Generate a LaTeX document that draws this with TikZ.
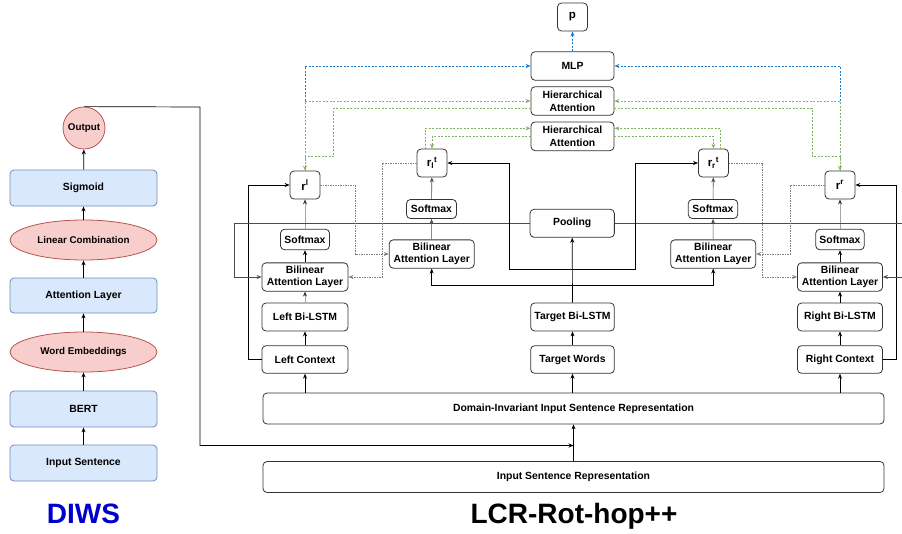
\documentclass[tikz,border=0pt]{standalone}
\usepackage{fontspec}
\usepackage{amsmath}
\setmainfont{Liberation Sans}
\usetikzlibrary{arrows.meta,calc,shapes.geometric}
\definecolor{dblue}{HTML}{6C8EBF}
\definecolor{dfill}{HTML}{DAE8FC}
\definecolor{pfill}{HTML}{F8CECC}
\definecolor{pdraw}{HTML}{B85450}
\definecolor{edgec}{HTML}{333333}
\definecolor{hgreen}{HTML}{82B366}
\definecolor{mblue}{HTML}{1F7AC8}
\definecolor{titleblue}{HTML}{0000CC}
\begin{document}
\begin{tikzpicture}[x=1pt,y=-1pt,
  tip/.style={-{Stealth[length=5pt,width=4pt]}},
  lbox/.style={draw=dblue,fill=dfill,rounded corners=4pt,line width=0.8pt,minimum width=147pt,minimum height=36pt,inner sep=0pt,font=\fontsize{10.4}{12}\selectfont\bfseries},
  lell/.style={ellipse,draw=pdraw,fill=pfill,line width=0.8pt,minimum width=147pt,minimum height=40pt,inner sep=0pt,font=\fontsize{9.8}{12}\selectfont\bfseries},
  box/.style={draw=edgec,fill=white,rounded corners=4pt,line width=0.8pt,inner sep=0pt,align=center,font=\fontsize{10.4}{12.6}\selectfont\bfseries},
  rbox/.style={box,minimum width=30pt,minimum height=28pt,font=\fontsize{11.5}{12}\selectfont\bfseries},
  conn/.style={tip,draw=black,line width=0.7pt},
  lconn/.style={-{Stealth[length=5pt,width=4pt,color=black!80]},draw=black!35,line width=0.8pt},
  gconn/.style={tip,draw=black!70,line width=0.6pt},
  dotg/.style={tip,draw=black!50,line width=0.8pt,dash pattern=on 1.5pt off 1pt},
  dgreen/.style={draw=hgreen,line width=0.8pt,dash pattern=on 2pt off 1.5pt},
  dblueline/.style={draw=mblue,line width=0.8pt,dash pattern=on 2pt off 1.5pt},
  title/.style={anchor=base,font=\fontsize{28}{30}\selectfont\bfseries,inner sep=0pt}
]
\useasboundingbox[fill=white] (0,0) rectangle (902,533);

% ---------------- DIWS ----------------
\node[lbox] (in) at (83.5,463) {Input Sentence};
\node[lbox] (bert) at (83.5,409) {BERT};
\node[lell] (we) at (83.5,352) {Word Embeddings};
\node[lbox,minimum height=35pt] (att) at (83.5,295.5) {Attention Layer};
\node[lell] (lc) at (83.5,240) {Linear Combination};
\node[lbox] (sig) at (83.5,188) {Sigmoid};
\node[circle,draw=pdraw,fill=pfill,line width=0.8pt,minimum size=42pt,inner sep=0pt,font=\fontsize{9.8}{12}\selectfont\bfseries] (out) at (84,128) {Output};
\draw[conn] (in) -- (bert);
\draw[conn] (bert) -- (we);
\draw[conn] (we) -- (att);
\draw[conn] (att) -- (lc);
\draw[conn] (lc) -- (sig);
\draw[conn] (sig) -- (out);
\node[title,text=titleblue] (diwst) at (83.5,523) {DIWS};

% ---------------- LCR-Rot-hop++ ----------------
\node[box,minimum width=621pt,minimum height=31pt] (isr) at (573.5,477) {Input Sentence Representation};
\node[box,minimum width=621pt,minimum height=31pt] (diisr) at (573.5,408.5) {Domain-Invariant Input Sentence Representation};
\coordinate (jn) at (573.5,445.5);
\draw[conn] (isr) -- (diisr);
\draw[conn] (out.north) -- (200,107) -- (200,445.5) -- (jn);

\node[box,minimum width=86pt,minimum height=27.6pt] (ctxL) at (305,359.5) {Left Context};
\node[box,minimum width=83.6pt,minimum height=27.6pt] (tw) at (572.5,359.5) {Target Words};
\node[box,minimum width=85pt,minimum height=27.6pt] (ctxR) at (840,359.5) {Right Context};
\node[box,minimum width=86pt,minimum height=28pt] (lstmL) at (305,317) {Left Bi-LSTM};
\node[box,minimum width=83.6pt,minimum height=28pt] (lstmT) at (572.5,317) {Target Bi-LSTM};
\node[box,minimum width=85pt,minimum height=28pt] (lstmR) at (840,317) {Right Bi-LSTM};
\node[box,minimum width=86pt,minimum height=28.3pt] (balL) at (305,277) {Bilinear\\Attention Layer};
\node[box,minimum width=85pt,minimum height=28.3pt] (balR) at (840,277) {Bilinear\\Attention Layer};
\node[box,minimum width=85pt,minimum height=28.3pt] (balCL) at (431.7,254) {Bilinear\\Attention Layer};
\node[box,minimum width=85pt,minimum height=28.3pt] (balCR) at (713.2,254) {Bilinear\\Attention Layer};
\node[box,minimum width=49pt,minimum height=20.5pt] (smL) at (305,239.5) {Softmax};
\node[box,minimum width=48.5pt,minimum height=20.5pt] (smR) at (840,239.5) {Softmax};
\node[box,minimum width=50pt,minimum height=19pt] (smCL) at (431.5,209) {Softmax};
\node[box,minimum width=49.5pt,minimum height=19pt] (smCR) at (713,209) {Softmax};
\node[box,minimum width=84.3pt,minimum height=28pt] (pool) at (572.2,223.3) {Pooling};
\node[rbox] (rl) at (305,185) {r$^{\text{l}}$};
\node[rbox] (rr) at (840,185) {r$^{\text{r}}$};
\node[rbox] (rlt) at (432,163) {r$_{\text{l}}{}^{\text{t}}$};
\node[rbox] (rrt) at (713.4,163) {r$_{\text{r}}{}^{\text{t}}$};
\node[box,minimum width=83pt,minimum height=28.7pt] (ha2) at (572.5,136.3) {Hierarchical\\Attention};
\node[box,minimum width=83pt,minimum height=28.5pt] (ha1) at (572.5,101) {Hierarchical\\Attention};
\node[box,minimum width=83pt,minimum height=28.5pt] (mlp) at (572.5,66) {MLP};
\node[rbox] (p) at (572.5,17) {p};
\node[title] (lcrt) at (574,523) {LCR-Rot-hop++};

% inputs from domain-invariant representation
\draw[conn] (ctxL.south |- diisr.north) -- (ctxL.south);
\draw[conn] (tw.south |- diisr.north) -- (tw.south);
\draw[conn] (ctxR.south |- diisr.north) -- (ctxR.south);

% vertical stacks
\draw[conn] (ctxL) -- (lstmL);
\draw[lconn] (lstmL) -- (balL);
\draw[conn] (balL) -- (smL);
\draw[lconn] (smL) -- (rl);
\draw[conn] (ctxR) -- (lstmR);
\draw[conn] (lstmR) -- (balR);
\draw[conn] (balR) -- (smR);
\draw[lconn] (smR) -- (rr);
\draw[conn] (tw) -- (lstmT);
\draw[conn] (lstmT) -- (pool);
\draw[gconn] (balCL) -- (smCL);
\draw[gconn] (smCL) -- (rlt);
\draw[gconn] (balCR) -- (smCR);
\draw[gconn] (smCR) -- (rrt);

% context shortcuts
\draw[conn] (ctxL.west) -- (248.3,359.5) |- (rl.west);
\draw[conn] (ctxR.east) -- (896.7,359.5) |- (rr.east);

% pooling to outer bilinear layers
\draw[gconn] (pool.west) -- (234,223.3) |- (balL.west);
\draw[gconn] (pool.east) -- (904,223.3) |- (balR.east);

% target hidden states to r_l^t and r_r^t
\coordinate (tj) at (572.5,269.3);
\draw[conn] (tj) -| (509.3,163) -- (rlt.east);
\draw[conn] (tj) -| (635.7,163) -- (rrt.west);
\draw[{Stealth[length=5pt,width=4pt]}-{Stealth[length=5pt,width=4pt]},draw=black,line width=0.7pt] (balCL.south) -- (431.7,285.7) -| (balCR.south);

% dotted grey rotations
\draw[dotg] (rl.east) -- (355,185) |- (balCL.west);
\draw[dotg] (rlt.west) -- (382,163) |- (balL.east);
\draw[dotg] (rrt.east) -- (762.7,163) |- (balR.west);
\draw[dotg] (rr.west) -- (790,185) |- (balCR.east);

% blue to MLP and p
\draw[dblueline,tip] (rl.north) |- (mlp.west);
\draw[dblueline,tip] (rr.north) |- (mlp.east);
\draw[dblueline,tip] (mlp) -- (p);

% green hierarchical attention
\draw[dgreen,tip] (rl.north) |- (ha1.west);
\draw[dgreen,tip] ($(ha1.west)+(0,7)$) -| (333.6,156.7) -| (rl.north);
\draw[dgreen,tip] (rr.north) |- (ha1.east);
\draw[dgreen,tip] ($(ha1.east)+(0,7)$) -| (812,156.7) -| (rr.north);
\draw[dgreen,tip] (425,149) |- ($(ha2.west)+(0,-8)$);
\draw[dgreen,tip] (ha2.west) -| (rlt.north);
\draw[dgreen,tip] (720.4,149) |- ($(ha2.east)+(0,-8)$);
\draw[dgreen,tip] (ha2.east) -| (rrt.north);
\end{tikzpicture}
\end{document}
